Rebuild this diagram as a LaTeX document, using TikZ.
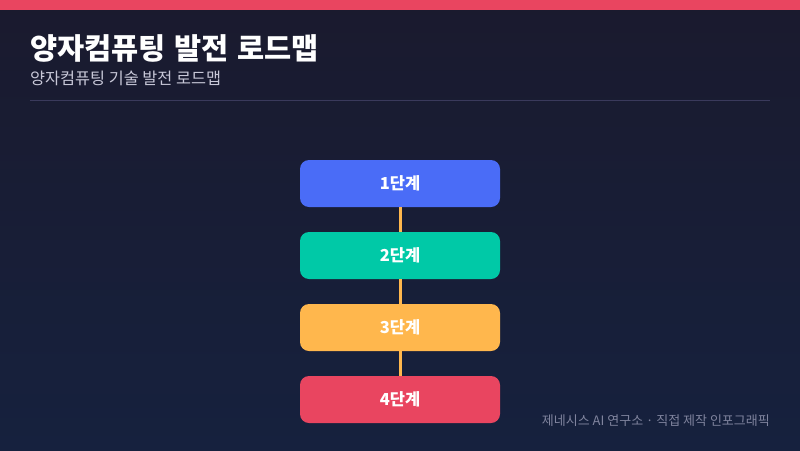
\documentclass[tikz,border=0pt]{standalone}
\usepackage{fontspec}
\setmainfont{Noto Sans CJK KR}
\definecolor{bgtop}{HTML}{1A1A2E}
\definecolor{bgbot}{HTML}{16213E}
\definecolor{accent}{HTML}{E94560}
\definecolor{cblue}{HTML}{4A6CF7}
\definecolor{cteal}{HTML}{00C9A7}
\definecolor{corange}{HTML}{FFB74D}
\definecolor{cred}{HTML}{E94560}
\definecolor{subgray}{HTML}{C8C8D8}
\definecolor{rulec}{HTML}{3A3A5C}
\definecolor{footc}{HTML}{80849E}
\tikzset{
  stagebox/.style={draw=none, rounded corners=9pt, minimum width=200pt, minimum height=47pt, inner sep=0pt, text=white, font=\fontsize{16.5}{19}\selectfont\bfseries},
  link/.style={draw=corange, line width=3pt}
}
\begin{document}
\begin{tikzpicture}[x=1pt,y=-1pt]
\useasboundingbox (0,0) rectangle (800,450);
\shade[top color=bgtop, bottom color=bgbot] (0,0) rectangle (800,450);
\fill[accent] (0,0) rectangle (800,10);
\node[anchor=west, text=white, font=\fontsize{29.5}{34}\selectfont\bfseries, inner sep=0pt] (title) at (30,48) {양자컴퓨팅\hspace{2pt} 발전\hspace{2pt} 로드맵};
\node[anchor=west, text=subgray, font=\fontsize{16.3}{19}\selectfont, inner sep=0pt] (sub) at (30,78) {양자컴퓨팅 기술 발전 로드맵};
\draw[rulec, line width=1pt] (30,100.5) -- (770,100.5);
\node[stagebox, fill=cblue] (s1) at (400,183.5) {1단계};
\node[stagebox, fill=cteal] (s2) at (400,255.5) {2단계};
\node[stagebox, fill=corange] (s3) at (400,327.5) {3단계};
\node[stagebox, fill=cred] (s4) at (400,399.5) {4단계};
\draw[link] (s1.south) -- (s2.north);
\draw[link] (s2.south) -- (s3.north);
\draw[link] (s3.south) -- (s4.north);
\node[anchor=east, text=footc, font=\fontsize{13}{15}\selectfont, inner sep=0pt] (foot) at (770,421) {제네시스 AI 연구소 · 직접 제작 인포그래픽};
\end{tikzpicture}
\end{document}
